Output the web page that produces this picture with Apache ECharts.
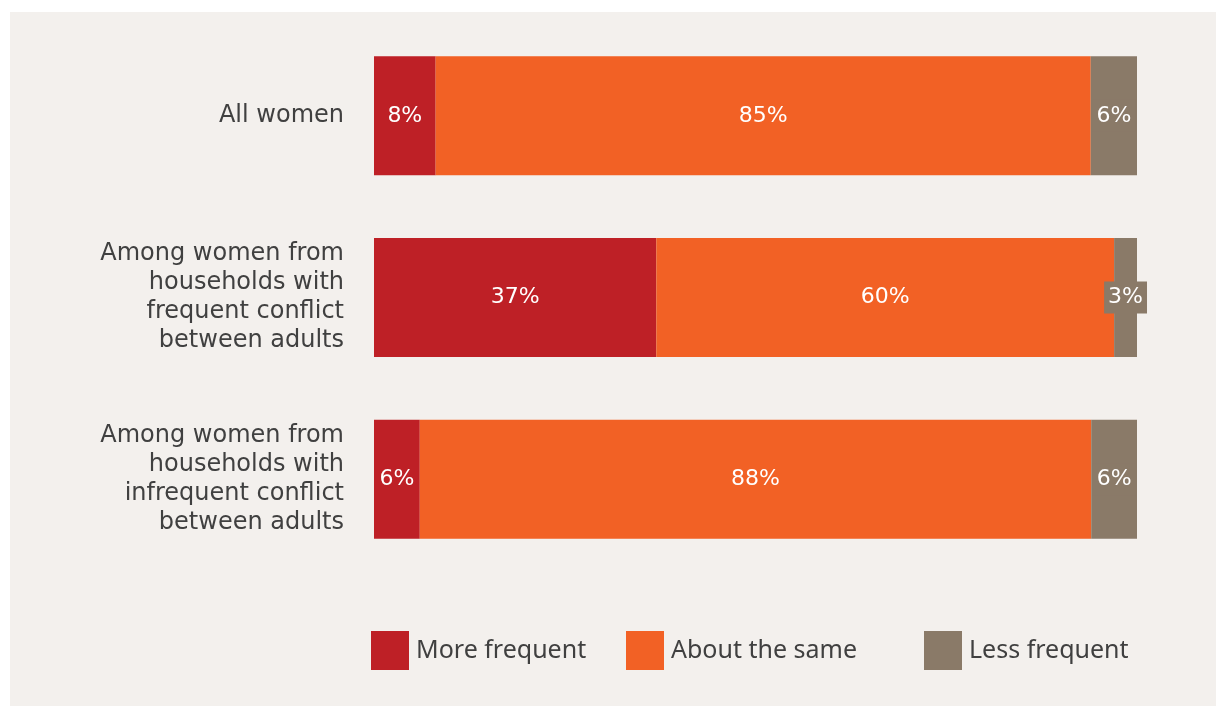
<!DOCTYPE html>
<html>
<head>
<meta charset="utf-8">
<script src="https://cdn.jsdelivr.net/npm/echarts@6/dist/echarts.min.js"></script>
<style>
	html, body { margin: 0; padding: 0; background: #fff; }
	#chart { width: 1216px; height: 707px; }
</style>
</head>
<body>
<div id="chart"></div>
<script type="text/javascript">
	var categories = [
		'All women',
		'Among women from\nhouseholds with\nfrequent conflict\nbetween adults',
		'Among women from\nhouseholds with\ninfrequent conflict\nbetween adults'
	];
	var seriesNames = ['More frequent', 'About the same', 'Less frequent'];
	var moreFrequent = [8, 37, 6];
	var aboutSame = [85, 60, 88];
	var lessFrequent = [6, 3, 6];
	var colors = ['#be2026', '#f26125', '#8a7a68'];

	var chart = echarts.init(document.getElementById('chart'));
	var raw = [moreFrequent, aboutSame, lessFrequent];
	// 每行按合计归一，条形都铺满
	var totals = categories.map(function (c, i) {
		return moreFrequent[i] + aboutSame[i] + lessFrequent[i];
	});
	var font = 'DejaVu Sans';

	var series = raw.map(function (vals, s) {
		return {
			name: seriesNames[s],
			type: 'bar',
			stack: 'all',
			barWidth: 119,
			itemStyle: { color: colors[s] },
			label: {
				show: true,
				position: 'inside',
				color: '#fff',
				fontFamily: font,
				fontSize: 22,
				backgroundColor: s === 2 ? colors[2] : 'transparent',
				padding: s === 2 ? [5, 4] : 0,
				formatter: function (p) { return vals[p.dataIndex] + '%'; }
			},
			data: vals.map(function (v, i) { return v / totals[i] * 100; })
		};
	});

	var legendLeft = [371, 626, 924];
	var legends = seriesNames.map(function (n, i) {
		return {
			data: [n],
			left: legendLeft[i],
			top: 631,
			padding: 0,
			icon: 'rect',
			itemWidth: 38,
			itemHeight: 39,
			itemGap: 0,
			textStyle: { color: '#404040', fontFamily: 'Noto Sans', fontSize: 25, padding: [0, 0, 0, 2] },
			selectedMode: false
		};
	});

	var option = {
		backgroundColor: '#fff',
		animation: false,
		color: colors,
		graphic: [{
			type: 'rect',
			z: -10,
			silent: true,
			shape: { x: 10, y: 12, width: 1206, height: 694 },
			style: { fill: '#f3f0ed' }
		}],
		legend: legends,
		grid: { left: 374, right: 79, top: 25, height: 545, containLabel: false },
		xAxis: {
			type: 'value',
			min: 0,
			max: 100,
			show: false
		},
		yAxis: {
			type: 'category',
			inverse: true,
			data: categories,
			axisLine: { show: false },
			axisTick: { show: false },
			axisLabel: {
				margin: 30,
				color: '#404040',
				fontFamily: font,
				fontSize: 24,
				lineHeight: 29,
				align: 'right'
			}
		},
		series: series
	};
	chart.setOption(option);
	window.onresize = function () {
		chart.resize();
	};
</script>
</body>
</html>
